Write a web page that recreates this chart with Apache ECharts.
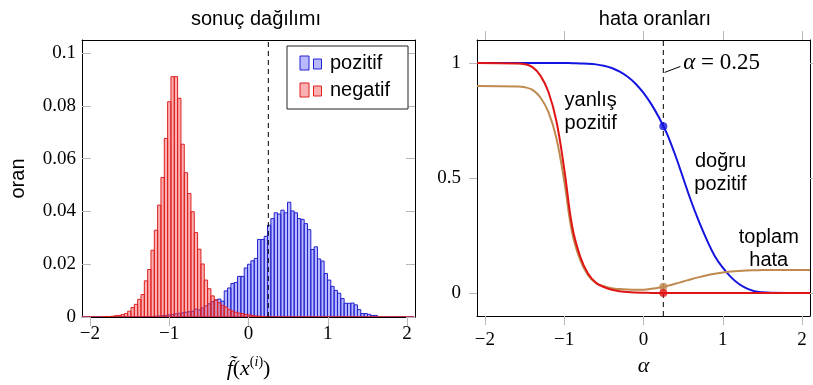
<!DOCTYPE html>
<html>
<head>
<meta charset="utf-8">
<script src="https://cdn.jsdelivr.net/npm/echarts@6/dist/echarts.min.js"></script>
<style>
  html, body { margin: 0; padding: 0; background: #fff; }
  #chart { width: 813px; height: 385px; }
</style>
</head>
<body>
<div id="chart"></div>
<script>
// histogram bins: 100 bins of equal width
var binStart = -2.112;
var binWidth = 0.042;

var posHist = [
  0, 0, 0, 0, 0, 0, 0, 0, 0, 0,
  0, 0, 0, 0, 0, 0, 0, 0, 0.0001, 0.0001,
  0.0002, 0.0002, 0.0003, 0.0004, 0.0005, 0.0006, 0.0008, 0.0010, 0.0012, 0.0014,
  0.0016, 0.0018, 0.0020, 0.0022, 0.0030, 0.0027, 0.0034, 0.0042, 0.0050, 0.0058,
  0.0065, 0.0068, 0.0060, 0.0099, 0.0110, 0.0127, 0.0131, 0.0154, 0.0154, 0.0186,
  0.0200, 0.0213, 0.0222, 0.0294, 0.0294, 0.0306, 0.0348, 0.0373, 0.0395, 0.0390,
  0.0405, 0.0395, 0.0435, 0.0402, 0.0395, 0.0373, 0.0370, 0.0354, 0.0331, 0.0256,
  0.0266, 0.0220, 0.0212, 0.0165, 0.0140, 0.0116, 0.0101, 0.0090, 0.0070, 0.0052,
  0.0052, 0.0053, 0.0046, 0.0028, 0.0013, 0.0013, 0.0010, 0.0006, 0.0006, 0,
  0, 0, 0, 0, 0, 0, 0, 0, 0, 0
];
var negHist = [
  0, 0, 0, 0, 0, 0, 0.0001, 0.0002, 0.0002, 0.0003,
  0.0005, 0.0006, 0.0009, 0.0013, 0.0022, 0.0036, 0.0048, 0.0067, 0.0085, 0.0137,
  0.0180, 0.0253, 0.0329, 0.0424, 0.0529, 0.0677, 0.0816, 0.0911, 0.0911, 0.0829,
  0.0655, 0.0547, 0.0468, 0.0399, 0.0320, 0.0257, 0.0201, 0.0140, 0.0107, 0.0080,
  0.0065, 0.0054, 0.0044, 0.0038, 0.0028, 0.0023, 0.0018, 0.0015, 0.0013, 0.0010,
  0.0008, 0.0006, 0.0004, 0.0003, 0.0002, 0.0001, 0, 0, 0, 0,
  0, 0, 0, 0, 0, 0, 0, 0, 0, 0,
  0, 0, 0, 0, 0, 0, 0, 0, 0, 0,
  0, 0, 0, 0, 0, 0, 0, 0, 0, 0,
  0, 0, 0, 0, 0, 0, 0, 0, 0, 0
];

// error rate curves
var alphaVals = [-2.1, -1.6, -1.5, -1.4, -1.3, -1.2, -1.1, -1.0, -0.9, -0.8, -0.7, -0.6, -0.5, -0.4, -0.3, -0.2, -0.1, 0,
  0.1, 0.2, 0.25, 0.3, 0.4, 0.5, 0.6, 0.7, 0.8, 0.9, 1.0, 1.1, 1.2, 1.3, 1.4, 1.5, 1.6, 2.1];
var truePos = [1, 1, 1, 1, 1, 1, 1, 1, 0.999, 0.998, 0.997, 0.994, 0.988, 0.978, 0.962, 0.94, 0.91, 0.87,
  0.82, 0.76, 0.725, 0.69, 0.60, 0.50, 0.40, 0.31, 0.23, 0.16, 0.11, 0.07, 0.04, 0.02, 0.008, 0.003, 0.001, 0];
var falsePos = [1, 0.998, 0.995, 0.982, 0.945, 0.875, 0.75, 0.54, 0.29, 0.16, 0.085, 0.045, 0.026, 0.014, 0.008, 0.004, 0.002, 0.001,
  0.0005, 0.0002, 0.0001, 0, 0, 0, 0, 0, 0, 0, 0, 0, 0, 0, 0, 0, 0, 0];
var totalErr = [0.9, 0.898, 0.895, 0.883, 0.85, 0.787, 0.675, 0.487, 0.262, 0.145, 0.077, 0.043, 0.03, 0.021, 0.017, 0.015, 0.0142, 0.0145,
  0.018, 0.024, 0.0275, 0.031, 0.04, 0.05, 0.06, 0.069, 0.077, 0.084, 0.089, 0.093, 0.096, 0.098, 0.099, 0.0997, 0.0999, 0.1];

var alphaMark = 0.25;
var xTicks = [-2, -1, 0, 1, 2];
var histTicks = [0, 0.02, 0.04, 0.06, 0.08, 0.1];
var rateTicks = [0, 0.5, 1];

var SERIF = 'Liberation Serif';
var SANS = 'Liberation Sans';
var BLUE = '#1414e0', RED = '#e01414', BROWN = '#bf8a50';

function fmt(v) { return v < 0 ? '\u2212' + Math.abs(v) : '' + v; }
function toBins(h) {
  return h.map(function (v, i) {
    var x0 = binStart + i * binWidth;
    return [x0, x0 + binWidth, v];
  });
}
function zip(xs, ys) { return xs.map(function (x, i) { return [x, ys[i]]; }); }
function valueAt(ys, x) { return ys[alphaVals.indexOf(x)]; }

function histItem(fill, stroke) {
  return function (params, api) {
    var a = api.coord([api.value(0), api.value(2)]);
    var b = api.coord([api.value(1), 0]);
    return {
      type: 'rect',
      shape: { x: a[0], y: a[1], width: b[0] - a[0], height: b[1] - a[1] },
      style: { fill: fill, stroke: stroke, lineWidth: 1 }
    };
  };
}

var lineBlack = { show: true, onZero: false, lineStyle: { color: '#000', width: 1 } };
var tickGray = { color: '#b8b8b8', width: 1 };
var tickFont = { fontFamily: SERIF, fontSize: 19, color: '#000' };

var chart = echarts.init(document.getElementById('chart'));
chart.setOption({
  animation: false,
  title: [
    { text: 'sonuç dağılımı', left: 251, top: 4, textAlign: 'center',
      textStyle: { fontFamily: SANS, fontSize: 20, fontWeight: 'normal', color: '#000' } },
    { text: 'hata oranları', left: 650, top: 4, textAlign: 'center',
      textStyle: { fontFamily: SANS, fontSize: 20, fontWeight: 'normal', color: '#000' } }
  ],
  grid: [
    { left: 82, top: 40, width: 333, height: 277 },
    { left: 477, top: 40, width: 333, height: 276 }
  ],
  xAxis: [
    { type: 'value', gridIndex: 0, position: 'bottom', min: -2.1, max: 2.1,
      axisLine: lineBlack, splitLine: { show: false },
      axisTick: { length: 9, customValues: xTicks, lineStyle: tickGray },
      axisLabel: Object.assign({ customValues: xTicks, formatter: fmt, margin: 8 }, tickFont),
      name: '{i|f\u0303}{n|(}{i|x}{s|(}{si|i}{s|)}{n|)}', nameLocation: 'middle', nameGap: 38,
      nameTextStyle: { rich: {
        i: { fontFamily: SERIF, fontStyle: 'italic', fontSize: 22, color: '#000' },
        n: { fontFamily: SERIF, fontSize: 22, color: '#000' },
        s: { fontFamily: SERIF, fontSize: 14, color: '#000', padding: [0, 0, 14, 0] },
        si: { fontFamily: SERIF, fontStyle: 'italic', fontSize: 14, color: '#000', padding: [0, 0, 14, 0] }
      } } },
    { type: 'value', gridIndex: 0, position: 'top', min: -2.1, max: 2.1,
      axisLine: lineBlack, axisTick: { show: false }, axisLabel: { show: false }, splitLine: { show: false } },
    { type: 'value', gridIndex: 1, position: 'bottom', min: -2.1, max: 2.1,
      axisLine: lineBlack, splitLine: { show: false },
      axisTick: { length: 9, customValues: xTicks, lineStyle: tickGray },
      axisLabel: Object.assign({ customValues: xTicks, formatter: fmt, margin: 15 }, tickFont),
      name: '{a|α}', nameLocation: 'middle', nameGap: 38,
      nameTextStyle: { rich: { a: { fontFamily: SERIF, fontStyle: 'italic', fontSize: 22, color: '#000' } } } },
    { type: 'value', gridIndex: 1, position: 'top', min: -2.1, max: 2.1,
      axisLine: lineBlack, splitLine: { show: false }, axisLabel: { show: false },
      axisTick: { length: 9, customValues: xTicks, lineStyle: tickGray } }
  ],
  yAxis: [
    { type: 'value', gridIndex: 0, position: 'left', min: 0, max: 0.105,
      axisLine: lineBlack, splitLine: { show: false },
      axisTick: { inside: true, length: 9, customValues: histTicks, lineStyle: tickGray },
      axisLabel: Object.assign({ customValues: histTicks, formatter: fmt, margin: 6 }, tickFont),
      name: 'oran', nameLocation: 'middle', nameGap: 54, nameRotate: 90,
      nameTextStyle: { fontFamily: SANS, fontSize: 20, color: '#000' } },
    { type: 'value', gridIndex: 0, position: 'right', min: 0, max: 0.105,
      axisLine: lineBlack, splitLine: { show: false }, axisLabel: { show: false },
      axisTick: { inside: true, length: 9, customValues: histTicks, lineStyle: tickGray } },
    { type: 'value', gridIndex: 1, position: 'left', min: -0.1, max: 1.1,
      axisLine: lineBlack, splitLine: { show: false },
      axisTick: { length: 8, customValues: rateTicks, lineStyle: tickGray },
      axisLabel: Object.assign({ customValues: rateTicks, formatter: fmt, margin: 16 }, tickFont) },
    { type: 'value', gridIndex: 1, position: 'right', min: -0.1, max: 1.1,
      axisLine: lineBlack, splitLine: { show: false }, axisLabel: { show: false },
      axisTick: { length: 8, customValues: rateTicks, lineStyle: tickGray } }
  ],
  series: [
    { name: 'pozitif', type: 'custom', xAxisIndex: 0, yAxisIndex: 0, clip: true,
      renderItem: histItem('rgba(70,70,255,0.38)', '#2323cc'),
      encode: { x: [0, 1], y: 2 }, data: toBins(posHist) },
    { name: 'negatif', type: 'custom', xAxisIndex: 0, yAxisIndex: 0, clip: true,
      renderItem: histItem('rgba(245,70,70,0.42)', '#dd2020'),
      encode: { x: [0, 1], y: 2 }, data: toBins(negHist) },
    { type: 'line', xAxisIndex: 0, yAxisIndex: 0, silent: true, showSymbol: false,
      lineStyle: { color: '#000', width: 1, type: [5, 4] },
      data: [[alphaMark, 0], [alphaMark, 0.105]] },

    { type: 'line', xAxisIndex: 2, yAxisIndex: 2, silent: true, showSymbol: false,
      lineStyle: { color: '#000', width: 1, type: [5, 4] },
      data: [[alphaMark, -0.1], [alphaMark, 1.1]] },
    { type: 'line', xAxisIndex: 2, yAxisIndex: 2, silent: true, showSymbol: false,
      lineStyle: { color: '#000', width: 1 },
      data: [[0.266, 0.959], [0.465, 0.985]] },
    { name: 'doğru pozitif', type: 'line', xAxisIndex: 2, yAxisIndex: 2, showSymbol: false,
      smooth: 0.4, lineStyle: { color: BLUE, width: 2 },
      data: zip(alphaVals, truePos) },
    { name: 'toplam hata', type: 'line', xAxisIndex: 2, yAxisIndex: 2, showSymbol: false,
      smooth: 0.4, lineStyle: { color: BROWN, width: 2 },
      data: zip(alphaVals, totalErr) },
    { name: 'yanlış pozitif', type: 'line', xAxisIndex: 2, yAxisIndex: 2, showSymbol: false,
      smooth: 0.4, lineStyle: { color: RED, width: 2 },
      data: zip(alphaVals, falsePos) },
    { type: 'scatter', xAxisIndex: 2, yAxisIndex: 2, symbolSize: 8, z: 5,
      data: [
        { value: [alphaMark, valueAt(truePos, alphaMark)], itemStyle: { color: BLUE } },
        { value: [alphaMark, valueAt(totalErr, alphaMark)], itemStyle: { color: BROWN } },
        { value: [alphaMark, valueAt(falsePos, alphaMark)], itemStyle: { color: RED } }
      ] }
  ]
});

// annotations and legend
function px(x, y) { return chart.convertToPixel({ xAxisIndex: 2, yAxisIndex: 2 }, [x, y]); }
function note(text, x, y) {
  var p = px(x, y);
  return { type: 'text', x: p[0], y: p[1], z: 10,
    style: { text: text, fontFamily: SANS, fontSize: 20, lineHeight: 23, fill: '#000',
      align: 'center', verticalAlign: 'middle' } };
}
var aPos = px(0.5, 1.0);
var legendItems = [
  { label: 'pozitif', fill: 'rgba(70,70,255,0.38)', stroke: '#2323cc', y: 63 },
  { label: 'negatif', fill: 'rgba(245,70,70,0.42)', stroke: '#dd2020', y: 90 }
];
var graphics = [
  note('yanlış\npozitif', -0.666, 0.788),
  note('doğru\npozitif', 0.971, 0.523),
  note('toplam\nhata', 1.58, 0.193),
  { type: 'text', x: aPos[0], y: aPos[1], z: 10,
    style: { text: '{a|α} = 0.25', fontFamily: SERIF, fontSize: 23, fill: '#000',
      align: 'left', verticalAlign: 'middle',
      rich: { a: { fontFamily: SERIF, fontSize: 23, fontStyle: 'italic', fill: '#000' } } } },
  { type: 'rect', shape: { x: 287, y: 46, width: 121, height: 63 }, z: 10,
    style: { fill: '#fff', stroke: '#222', lineWidth: 1 } }
];
legendItems.forEach(function (it) {
  graphics.push({ type: 'rect', z: 11, shape: { x: 300, y: it.y - 7, width: 9, height: 14 },
    style: { fill: it.fill, stroke: it.stroke, lineWidth: 1 } });
  graphics.push({ type: 'rect', z: 11, shape: { x: 313.5, y: it.y - 4, width: 8, height: 10 },
    style: { fill: it.fill, stroke: it.stroke, lineWidth: 1 } });
  graphics.push({ type: 'text', z: 11, x: 330, y: it.y,
    style: { text: it.label, fontFamily: SANS, fontSize: 20, fill: '#000', verticalAlign: 'middle' } });
});
chart.setOption({ graphic: graphics });
</script>
</body>
</html>
